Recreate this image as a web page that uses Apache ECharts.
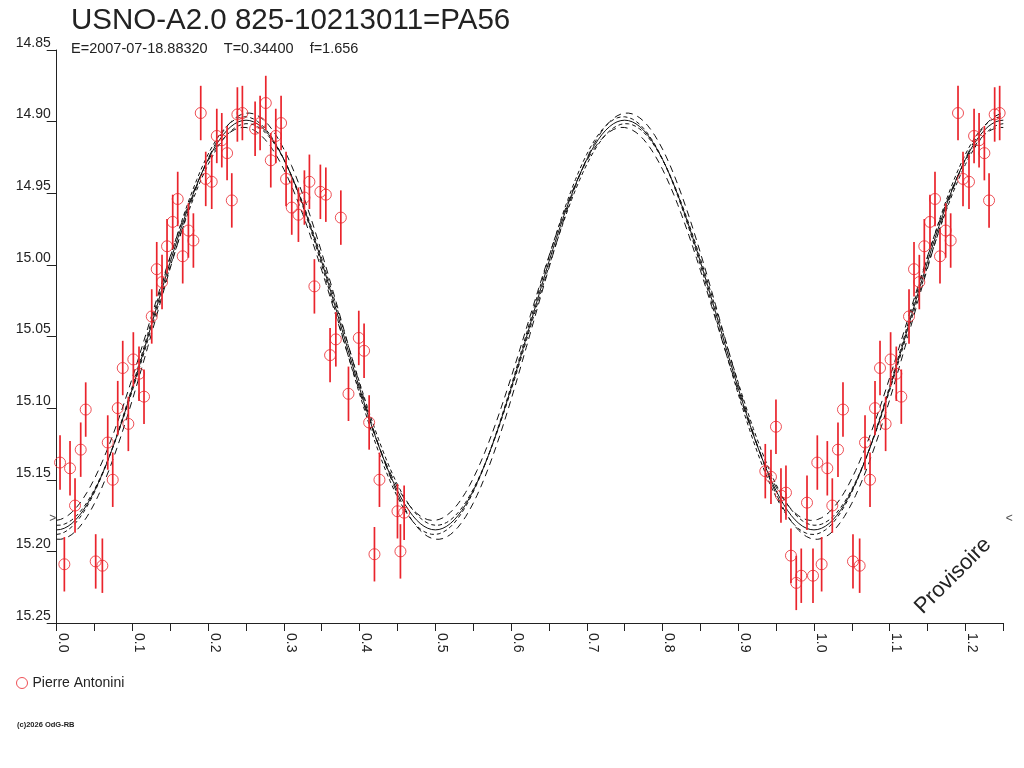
<!DOCTYPE html>
<html>
<head>
<meta charset="utf-8">
<script src="https://cdn.jsdelivr.net/npm/echarts@6/dist/echarts.min.js"></script>
<style>
html,body{margin:0;padding:0;background:#fff;}
#chart{width:1024px;height:768px;}
</style>
</head>
<body>
<div id="chart"></div>
<script>
// ---- data ----
var titleText = 'USNO-A2.0 825-10213011=PA56';
var subText = 'E=2007-07-18.88320    T=0.34400    f=1.656';
var observer = 'Pierre Antonini';

// observed phases (0..1) and magnitudes
var obsPhase = [
  0.0044,0.0101,0.0176,0.0242,0.0317,0.0383,0.0515,0.0603,0.0674,0.0740,
  0.0806,0.0872,0.0946,0.1012,0.1087,0.1153,0.1255,0.1321,0.1391,0.1457,
  0.1532,0.1598,0.1664,0.1739,0.1805,0.1902,0.1968,0.2047,0.2114,0.2180,
  0.2250,0.2312,0.2386,0.2452,0.2620,0.2686,0.2761,0.2827,0.2893,0.2963,
  0.3029,0.3104,0.3192,0.3271,0.3337,0.3403,0.3482,0.3554,0.3610,0.3686,
  0.3752,0.3853,0.3989,0.4059,0.4126,0.4196,0.4262,0.4500,0.4539,0.4588,
  0.9357,0.9432,0.9498,0.9564,0.9630,0.9696,0.9766,0.9832,0.9908,0.9987
];
var obsMag = [
  15.138,15.209,15.142,15.168,15.129,15.101,15.207,15.210,15.124,15.150,
  15.100,15.072,15.111,15.066,15.076,15.092,15.036,15.003,15.012,14.987,
  14.970,14.954,14.994,14.976,14.983,14.894,14.940,14.942,14.910,14.913,
  14.922,14.955,14.895,14.894,14.905,14.901,14.887,14.927,14.910,14.901,
  14.940,14.960,14.965,14.953,14.942,15.015,14.949,14.951,15.063,15.052,
  14.967,15.090,15.051,15.060,15.110,15.202,15.150,15.172,15.200,15.173,
  15.144,15.148,15.113,15.161,15.159,15.203,15.222,15.217,15.166,15.217
];
var obsErr = 0.019;

// fitted light-curve model: [mean mag, semi-amplitude, phase shift]
var fitCentral = [15.042, 0.143, 0.0];
var fitInner   = [[15.0424, 0.1458, 0.0016], [15.0416, 0.1402, -0.0016]];
var fitOuter   = [[15.0428, 0.1488, -0.0030], [15.0412, 0.1372, 0.0030]];
var meanMarkMag = 15.1775;
var phaseMax = 1.25;
var xTicks = 0.05;
var yMin = 14.85, yMax = 15.25, yStep = 0.05;
</script>
<script>
// build displayed points (phases repeated beyond 1)
var pts = [];
for (var i = 0; i < obsPhase.length; i++) {
  pts.push([obsPhase[i], obsMag[i], obsErr]);
  if (obsPhase[i] + 1 <= phaseMax) pts.push([obsPhase[i] + 1, obsMag[i], obsErr]);
}
function curve(p) {
  var out = [];
  for (var k = 0; k <= 250; k++) {
    var ph = k * phaseMax / 250;
    out.push([ph, p[0] + p[1] * Math.cos(4 * Math.PI * (ph + p[2]))]);
  }
  return out;
}
var red = 'rgb(234,36,44)';
var ink = '#222';
var FF = 'Liberation Sans, Arial, sans-serif';

var series = [];
function lineSeries(p, type, dash) {
  series.push({
    type: 'line', data: curve(p), showSymbol: false, symbol: 'none', silent: true,
    lineStyle: {color: '#111', width: 1, type: dash || type}, z: 1
  });
}
lineSeries(fitCentral, 'solid');
fitInner.forEach(function (p) { lineSeries(p, 'dashed', [4, 3]); });
fitOuter.forEach(function (p) { lineSeries(p, 'dashed', [7, 5]); });

series.push({
  type: 'custom', z: 3, silent: true,
  data: pts,
  renderItem: function (params, api) {
    var x = api.value(0), y = api.value(1), e = api.value(2);
    var a = api.coord([x, y - e]), b = api.coord([x, y + e]);
    return {type: 'line', shape: {x1: a[0], y1: a[1], x2: b[0], y2: b[1]},
      style: {stroke: red, lineWidth: 1.7}};
  }
});
series.push({
  name: observer, type: 'scatter', z: 4, data: pts.map(function (d) { return [d[0], d[1]]; }),
  symbol: 'circle', symbolSize: 11,
  itemStyle: {color: 'rgba(0,0,0,0)', borderColor: red, borderWidth: 1}
});
series.push({
  type: 'scatter', z: 5, silent: true, symbolSize: 1,
  itemStyle: {color: 'rgba(0,0,0,0)'},
  data: [
    {value: [0, meanMarkMag], label: {show: true, formatter: '>', position: 'left', distance: 0}},
    {value: [phaseMax, meanMarkMag], label: {show: true, formatter: '<', position: 'right', distance: 2}}
  ],
  label: {color: ink, fontSize: 12, fontFamily: FF}
});

var chart = echarts.init(document.getElementById('chart'));
chart.setOption({
  animation: false,
  backgroundColor: '#fff',
  grid: {left: 56.7, right: 20.7, top: 50, bottom: 145, containLabel: false},
  xAxis: {
    type: 'value', min: 0, max: phaseMax, interval: xTicks,
    axisLine: {onZero: false, lineStyle: {color: ink, width: 1}},
    axisTick: {show: true, length: 8, lineStyle: {color: ink}},
    splitLine: {show: false},
    axisLabel: {
      rotate: -90, margin: 10, color: ink, fontSize: 14, fontFamily: FF,
      verticalAlign: 'bottom', lineHeight: 13,
      showMinLabel: true, showMaxLabel: true,
      formatter: function (v) { return Math.round(v * 100) % 10 === 0 ? v.toFixed(1) : ''; }
    }
  },
  yAxis: {
    type: 'value', inverse: true, min: yMin, max: yMax, interval: yStep,
    axisLine: {show: true, lineStyle: {color: ink, width: 1}},
    axisTick: {show: true, length: 10, lineStyle: {color: ink}},
    splitLine: {show: false},
    axisLabel: {
      margin: 6, color: ink, fontSize: 14, fontFamily: FF,
      verticalAlign: 'bottom', lineHeight: 14,
      formatter: function (v) { return v.toFixed(2); }
    }
  },
  legend: {
    left: 16, top: 676, padding: 0, orient: 'vertical', itemWidth: 11, itemHeight: 11, itemGap: 5,
    data: [{name: observer, icon: 'circle', itemStyle: {color: 'rgba(0,0,0,0)', borderColor: red, borderWidth: 1}}],
    textStyle: {color: ink, fontSize: 14, fontFamily: FF}
  },
  graphic: [
    {type: 'text', x: 71, y: 21, style: {text: titleText, fill: ink, font: '29.5px ' + FF, verticalAlign: 'middle', align: 'left'}},
    {type: 'text', x: 71, y: 49, style: {text: subText, fill: ink, font: '14.5px ' + FF, verticalAlign: 'middle', align: 'left'}},
    {type: 'text', x: 953, y: 576, rotation: Math.PI / 4,
      style: {text: 'Provisoire', fill: ink, font: '22px ' + FF, align: 'center', verticalAlign: 'middle'}},
    {type: 'text', x: 17, y: 725, style: {text: '(c)2026 OdG-RB', fill: ink, font: 'bold 7.5px ' + FF, verticalAlign: 'middle', align: 'left'}}
  ],
  series: series
});
</script>
</body>
</html>
